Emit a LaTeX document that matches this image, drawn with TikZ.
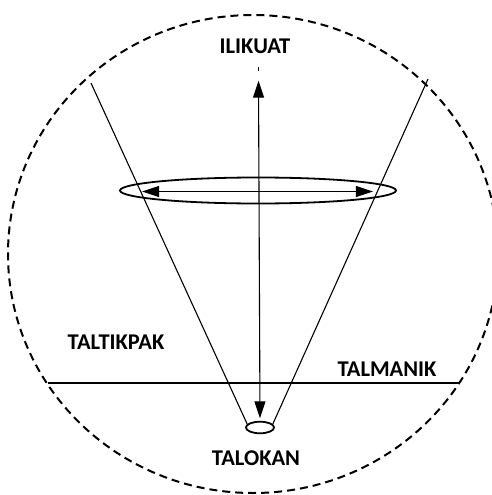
\documentclass[tikz,border=0pt]{standalone}
\usepackage{fontspec}
\setmainfont{Carlito}
\usetikzlibrary{arrows.meta,positioning,calc,shapes.geometric}
\tikzset{
  region/.style={font=\bfseries\fontsize{22.5}{26}\selectfont,inner sep=0pt},
  ray/.style={draw=black,line width=1.1pt},
  rim/.style={draw=black,line width=2pt,dash pattern=on 8pt off 5pt},
  ring/.style={draw=black,line width=1.8pt,ellipse,inner sep=0pt},
  axis/.style={{Triangle[length=17pt,width=11pt]}-{Triangle[length=17pt,width=11pt]},line width=1.1pt}
}

\begin{document}
\begin{tikzpicture}[x=1pt,y=-1pt]
  \useasboundingbox (0,0) rectangle (492,495);
  % outer boundary
  \draw[rim] (253,254) ellipse [x radius=245,y radius=239];
  % rings
  \node[ring,minimum width=276pt,minimum height=26pt] (disk) at (258,190.5) {};
  \node[ring,minimum width=28pt,minimum height=11.6pt] (base) at (260,427.5) {};
  % cone
  \coordinate (ltop) at (91,83);
  \coordinate (rtop) at (428,79);
  \draw[ray] (ltop) -- (base.165);
  \draw[ray] (rtop) -- (base.15);
  % horizon
  \coordinate (hleft) at (47.5,383);
  \coordinate (hright) at (459.5,383);
  \draw[ray] (hleft) -- (hright);
  % axes
  \coordinate (zenith) at (258.5,80.7);
  \coordinate (nadir) at ($(base.north)+(0,-2.5)$);
  \draw[axis] (zenith) -- (nadir);
  \draw[ray] (zenith) ++(0,-10) -- ++(0,-3.5);
  \draw[axis] ($(disk.west)+(23,1)$) -- ($(disk.east)+(-24,1)$);
  % labels
  \node[region] (up) at (255,46) {ILIKUAT};
  \node[region] (down) at (256,458) {TALOKAN};
  \node[region] (west) at (116,342) {TALTIKPAK};
  \node[region] (east) at (387,369) {TALMANIK};
\end{tikzpicture}
\end{document}
